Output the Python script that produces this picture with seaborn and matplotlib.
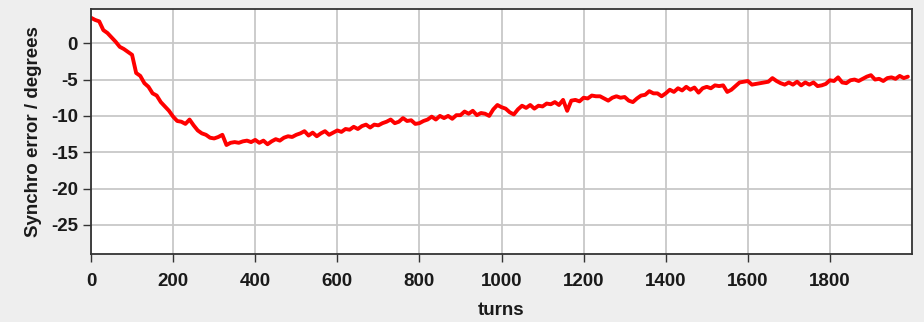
import seaborn as sns
import matplotlib.pyplot as plt
import numpy as np
import pandas as pd

# synchro error, one value every 10 turns
turns = np.arange(0, 2000, 10)
error_deg = [
    3.5, 3.2, 3.0, 1.8, 1.4, 0.8, 0.2, -0.5, -0.8, -1.2,
    -1.6, -4.1, -4.5, -5.5, -6.0, -6.9, -7.2, -8.1, -8.7, -9.3,
    -10.1, -10.7, -10.8, -11.1, -10.5, -11.3, -12.0, -12.4, -12.6, -13.0,
    -13.1, -12.9, -12.6, -14.0, -13.7, -13.6, -13.7, -13.5, -13.4, -13.6,
    -13.3, -13.7, -13.4, -13.9, -13.5, -13.2, -13.4, -13.0, -12.8, -12.9,
    -12.6, -12.4, -12.1, -12.7, -12.3, -12.8, -12.4, -12.1, -12.6, -12.3,
    -12.0, -12.2, -11.8, -11.9, -11.5, -11.8, -11.4, -11.2, -11.6, -11.2,
    -11.3, -11.0, -10.8, -10.5, -11.0, -10.8, -10.3, -10.7, -10.6, -11.1,
    -11.0, -10.7, -10.5, -10.1, -10.5, -10.0, -10.3, -10.0, -10.4, -9.9,
    -9.9, -9.4, -9.7, -9.3, -9.9, -9.6, -9.7, -10.0, -9.1, -8.5,
    -8.8, -9.0, -9.5, -9.8, -9.1, -8.6, -8.9, -8.5, -9.0, -8.6,
    -8.7, -8.3, -8.4, -8.1, -8.5, -7.8, -9.3, -7.9, -7.8, -8.0,
    -7.5, -7.6, -7.2, -7.3, -7.3, -7.6, -7.9, -7.5, -7.3, -7.5,
    -7.4, -7.9, -8.1, -7.6, -7.2, -7.1, -6.6, -6.9, -6.9, -7.3,
    -6.9, -6.4, -6.7, -6.2, -6.5, -6.0, -6.4, -6.1, -6.8, -6.2,
    -6.0, -6.2, -5.8, -5.9, -5.8, -6.7, -6.4, -5.9, -5.4, -5.3,
    -5.2, -5.7, -5.6, -5.5, -5.4, -5.3, -4.8, -5.2, -5.5, -5.7,
    -5.4, -5.7, -5.3, -5.8, -5.4, -5.7, -5.4, -5.9, -5.8, -5.6,
    -5.1, -5.2, -4.7, -5.4, -5.5, -5.1, -5.0, -5.2, -4.9, -4.6,
    -4.4, -5.0, -4.9, -5.2, -4.8, -4.7, -4.9, -4.5, -4.8, -4.6,
]
x_ticks = [0, 200, 400, 600, 800, 1000, 1200, 1400, 1600, 1800]
y_ticks = [0, -5, -10, -15, -20, -25]

df = pd.DataFrame({"turns": turns, "error": error_deg})

sns.set_theme(style="white")
plt.rcParams['font.family'] = ['Liberation Sans', 'DejaVu Sans']
plt.rcParams['font.weight'] = 'bold'
plt.rcParams['axes.unicode_minus'] = False

fig = plt.figure(figsize=(9.24, 3.22), dpi=100, facecolor='#eeeeee')
ax = fig.add_axes([0.0985, 0.211, 0.8885, 0.761])
ax.set_facecolor('white')

sns.lineplot(data=df, x="turns", y="error", color='#ff0000', linewidth=2.8, ax=ax)

ax.set_xlim(0, 2000)
ax.set_ylim(-29, 4.7)
ax.set_xticks(x_ticks)
ax.set_yticks(y_ticks)
ax.grid(True, color='#c8c8c8', linewidth=1.3)
ax.set_axisbelow(True)
for s in ax.spines.values():
    s.set_color('#333333')
    s.set_linewidth(1.3)
ax.tick_params(axis='both', direction='out', length=5.5, width=1, color='#333333',
               labelsize=13.5, labelcolor='#1a1a1a')
ax.tick_params(axis='x', pad=8, bottom=True)
ax.tick_params(axis='y', pad=4, left=True)
ax.set_xlabel("turns", fontsize=13.5, fontweight='bold', color='#1a1a1a', labelpad=9)
ax.set_ylabel("Synchro error / degrees", fontsize=13.5, fontweight='bold', color='#1a1a1a', labelpad=6)

fig.savefig("out.png", dpi=100, facecolor=fig.get_facecolor())
